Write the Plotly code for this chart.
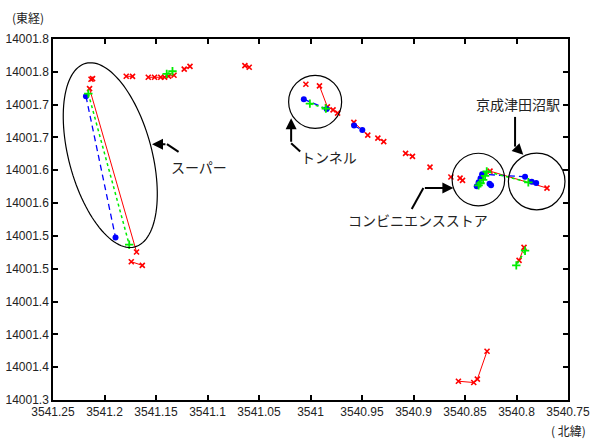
import math
import plotly.graph_objects as go

# Longitude (x, reversed) and latitude (y) of three positioning tracks;
# None breaks a track into separate segments.
red_lon = [3541.2131, 3541.2116, None,
           3541.2145, 3541.1689, None,
           3541.1740, 3541.1633, None,
           3541.1789, 3541.1728, None,
           3541.1575, 3541.1514, 3541.1454, 3541.1417, 3541.1378, 3541.1325, None,
           3541.1226, 3541.1170, None,
           3541.0637, 3541.0595, None,
           3541.0045, None,
           3540.9913, 3540.9836, 3540.9781, 3540.9737, None,
           3540.9579, 3540.9444, None,
           3540.9346, 3540.9289, None,
           3540.9077, 3540.9010, None,
           3540.8840, None,
           3540.8637, None,
           3540.8548, 3540.8524, None,
           3540.8257, 3540.7704, None,
           3540.7927, 3540.7975, None,
           3540.8564, 3540.8415, 3540.8380, 3540.8286]
red_lat = [14001.7887, 14001.7896, None,
           14001.7744, 14001.5255, None,
           14001.5107, 14001.5051, None,
           14001.7933, 14001.7930, None,
           14001.7917, 14001.7917, 14001.7917, 14001.7917, 14001.7933, 14001.7948, None,
           14001.8041, 14001.8082, None,
           14001.8094, 14001.8069, None,
           14001.7811, None,
           14001.7785, 14001.7465, 14001.7420, 14001.7370, None,
           14001.7230, 14001.7036, None,
           14001.6989, 14001.6936, None,
           14001.6758, 14001.6712, None,
           14001.6548, None,
           14001.6397, None,
           14001.6381, 14001.6347, None,
           14001.6487, 14001.6229, None,
           14001.5325, 14001.5127, None,
           14001.3286, 14001.3266, 14001.3317, 14001.3743]

blue_lon = [3541.2180, 3541.1893, None,
            3541.0065, 3540.9843, None,
            3540.9577, 3540.9497, None,
            3540.8386, 3540.8368, 3540.8349, 3540.8334, 3540.7917, 3540.7852, 3540.7809, None,
            3540.8262, 3540.8247]
blue_lat = [14001.7628, 14001.5477, None,
            14001.7583, 14001.7435, None,
            14001.7181, 14001.7112, None,
            14001.6256, 14001.6317, 14001.6378, 14001.6439, 14001.6401, 14001.6324, 14001.6305, None,
            14001.6294, 14001.6271]

green_lon = [3541.2157, 3541.1760, None,
             3541.1396, 3541.1340, None,
             3541.0006, 3540.9851, None,
             3540.8368, 3540.8349, 3540.8324, 3540.8305, 3540.8289, 3540.7885, None,
             3540.7917, 3540.8002]
green_lat = [14001.7668, 14001.5366, None,
             14001.7968, 14001.8009, None,
             14001.7516, 14001.7440, None,
             14001.6271, 14001.6302, 14001.6355, 14001.6416, 14001.6481, 14001.6317, None,
             14001.5275, 14001.5051]

x_ticks = [3541.25, 3541.2, 3541.15, 3541.1, 3541.05, 3541.0,
           3540.95, 3540.9, 3540.85, 3540.8, 3540.75]
x_tick_text = ["3541.25", "3541.2", "3541.15", "3541.1", "3541.05", "3541",
               "3540.95", "3540.9", "3540.85", "3540.8", "3540.75"]
y_ticks = [14001.30, 14001.35, 14001.40, 14001.45, 14001.50, 14001.55,
           14001.60, 14001.65, 14001.70, 14001.75, 14001.80, 14001.85]
y_tick_text = ["14001.3", "14001.4", "14001.4", "14001.4", "14001.5", "14001.5",
               "14001.6", "14001.6", "14001.7", "14001.7", "14001.8", "14001.8"]

X_RANGE = [3541.25, 3540.75]
Y_RANGE = [14001.30, 14001.85]

W, H = 591, 440
M = dict(l=53, r=23, t=39, b=40)
PLOT_W = W - M["l"] - M["r"]
PLOT_H = H - M["t"] - M["b"]
px_per_lon = PLOT_W / abs(X_RANGE[1] - X_RANGE[0])
px_per_lat = PLOT_H / abs(Y_RANGE[1] - Y_RANGE[0])

fig = go.Figure()
fig.add_trace(go.Scatter(
    x=red_lon, y=red_lat, mode="lines+markers",
    line=dict(color="#ff0000", width=1),
    marker=dict(symbol="x-thin-open", size=5, line=dict(color="#ff0000", width=1.6)),
    showlegend=False, connectgaps=False))
fig.add_trace(go.Scatter(
    x=blue_lon, y=blue_lat, mode="lines+markers",
    line=dict(color="#0000ff", width=1.3, dash="6px,4px"),
    marker=dict(symbol="circle", size=6, color="#0000ff"),
    showlegend=False, connectgaps=False))
fig.add_trace(go.Scatter(
    x=green_lon, y=green_lat, mode="lines+markers",
    line=dict(color="#00ee00", width=1.5, dash="dot"),
    marker=dict(symbol="cross-thin-open", size=6, line=dict(color="#00ee00", width=1.8)),
    showlegend=False, connectgaps=False))


def ellipse_path(lon_c, lat_c, a_px, b_px, tilt_deg, n=120):
    """Outline of an ellipse given in screen pixels, tilted from vertical."""
    th = math.radians(tilt_deg)
    ux, uy = math.sin(th), math.cos(th)
    vx, vy = math.cos(th), -math.sin(th)
    pts = []
    for i in range(n + 1):
        t = 2 * math.pi * i / n
        dx = a_px * math.cos(t) * ux + b_px * math.sin(t) * vx
        dy = a_px * math.cos(t) * uy + b_px * math.sin(t) * vy
        pts.append((lon_c - dx / px_per_lon, lat_c - dy / px_per_lat))
    return "M " + " L ".join(f"{x:.5f},{y:.5f}" for x, y in pts) + " Z"


shapes = []
# supermarket
shapes.append(dict(type="path", xref="x", yref="y",
                   path=ellipse_path(3541.1944, 14001.6731, 95, 41.5, 15),
                   line=dict(color="black", width=1.2)))
# tunnel, convenience store, station
for lon_c, lat_c, r_px in [(3540.9955, 14001.7542, 26.5),
                           (3540.8370, 14001.6359, 26.3),
                           (3540.7804, 14001.6329, 28.3)]:
    shapes.append(dict(type="circle", xref="x", yref="y",
                       x0=lon_c - r_px / px_per_lon, x1=lon_c + r_px / px_per_lon,
                       y0=lat_c - r_px / px_per_lat, y1=lat_c + r_px / px_per_lat,
                       line=dict(color="black", width=1.2)))

# callout leaders: (start, bend, arrow tip)
leaders = [
    ((3541.1281, 14001.6780), (3541.1394, 14001.6898), (3541.1539, 14001.6898)),
    ((3541.0100, 14001.6785), (3541.0188, 14001.6913), (3541.0188, 14001.7294)),
    ((3540.9017, 14001.5909), (3540.8904, 14001.6229), (3540.8613, 14001.6229)),
    ((3540.8014, 14001.7313), (3540.8014, 14001.6861), (3540.7934, 14001.6735)),
]
annotations = []
for (x0, y0), (x1, y1), (x2, y2) in leaders:
    shapes.append(dict(type="line", xref="x", yref="y", x0=x0, y0=y0, x1=x1, y1=y1,
                       line=dict(color="black", width=2)))
    annotations.append(dict(x=x2, y=y2, ax=x1, ay=y1, xref="x", yref="y",
                            axref="x", ayref="y", text="", showarrow=True,
                            arrowhead=2, arrowsize=1.1, arrowwidth=2,
                            arrowcolor="black"))

jp = dict(family="Noto Sans CJK JP", size=14, color="#222222")
for text, lon, lat in [("スーパー", 3541.1080, 14001.6553),
                       ("トンネル", 3540.9819, 14001.6705),
                       ("コンビニエンスストア", 3540.8955, 14001.5746),
                       ("京成津田沼駅", 3540.7985, 14001.7511)]:
    annotations.append(dict(x=lon, y=lat, xref="x", yref="y", text=text,
                            showarrow=False, font=jp))

# axis captions outside the frame (paper units are relative to the plot area)
unit_font = dict(family="Noto Sans CJK JP", size=12, color="#222222")
annotations.append(dict(x=(10 - M["l"]) / PLOT_W, y=(H - M["b"] - 18) / PLOT_H,
                        xref="paper", yref="paper", text="(東経)", showarrow=False,
                        xanchor="left", yanchor="middle", font=unit_font))
annotations.append(dict(x=(588 - M["l"]) / PLOT_W, y=(H - M["b"] - 430) / PLOT_H,
                        xref="paper", yref="paper", text="( 北緯)", showarrow=False,
                        xanchor="right", yanchor="middle", font=unit_font))

axis_common = dict(showgrid=False, zeroline=False, showline=True, linecolor="black",
                   linewidth=1.5, mirror="ticks", ticks="inside", ticklen=5,
                   tickwidth=1.5, tickcolor="black", automargin=False,
                   tickfont=dict(family="Liberation Sans", size=12, color="#222222"))

fig.update_layout(
    width=W, height=H, margin=M,
    paper_bgcolor="white", plot_bgcolor="white",
    xaxis=dict(range=X_RANGE, tickvals=x_ticks, ticktext=x_tick_text, **axis_common),
    yaxis=dict(range=Y_RANGE, tickvals=y_ticks, ticktext=y_tick_text, **axis_common),
    shapes=shapes, annotations=annotations,
)

fig.write_html("out.html")
